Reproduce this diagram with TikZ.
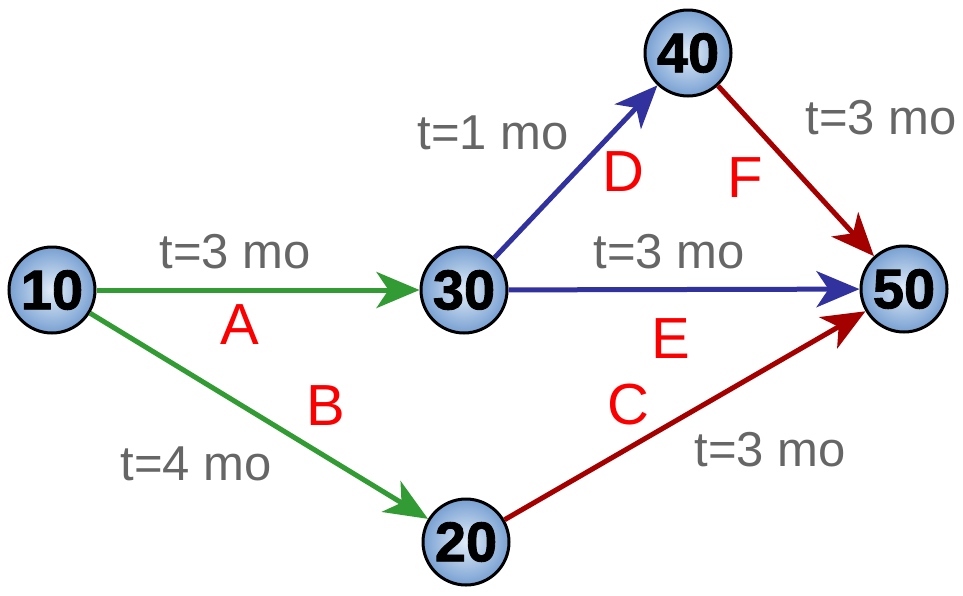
\documentclass[tikz,border=0pt]{standalone}
\usepackage{fontspec}
\setmainfont{Liberation Sans}
\newfontfamily\nodefont[FakeBold=1.6]{Liberation Sans Bold}
\usetikzlibrary{arrows.meta}
\definecolor{gA}{RGB}{51,155,51}
\definecolor{bE}{RGB}{50,50,158}
\definecolor{rC}{RGB}{165,0,0}
\definecolor{lbl}{RGB}{102,102,102}
\definecolor{lr}{RGB}{250,0,0}
\definecolor{nin}{RGB}{225,236,248}
\definecolor{nout}{RGB}{120,160,210}
\tikzset{
  evt/.style={circle, draw=black, line width=3pt, minimum size=86pt, inner sep=0pt,
    inner color=nin, outer color=nout, font=\fontsize{56}{56}\nodefont},
  act/.style={line width=5pt, -{Stealth[length=43pt,width=36pt,inset=12pt]}},
  dur/.style={text=lbl, inner sep=0pt, font=\fontsize{49}{49}\selectfont},
  let/.style={text=lr, inner sep=0pt, font=\fontsize{58}{58}\selectfont},
}
\begin{document}
\begin{tikzpicture}[x=1pt,y=-1pt]
\useasboundingbox (0,0) rectangle (963,595);
\node[evt] (n10) at (52,290) {10};
\node[evt] (n30) at (464,290) {30};
\node[evt] (n40) at (688,53) {40};
\node[evt] (n50) at (904,289) {50};
\node[evt] (n20) at (466,542) {20};

\draw[act, gA] (n10) -- (n30);
\draw[act, gA] (n10) -- (n20);
\draw[act, bE] (n30) -- (n40);
\draw[act, bE] (n30) -- (n50);
\draw[act, rC] (n20) -- (n50);
\draw[act, rC] (n40) -- (n50);

\node[dur] (dA) at (235,252) {t=3 mo};
\node[let] (lA) at (240,325) {A};
\node[dur] (dB) at (196,464) {t=4 mo};
\node[let] (lB) at (326,406) {B};
\node[dur] (dD) at (493,133) {t=1 mo};
\node[let] (lD) at (623,172) {D};
\node[let] (lF) at (745,178) {F};
\node[dur] (dF) at (881,118) {t=3 mo};
\node[dur] (dE) at (669,252) {t=3 mo};
\node[let] (lE) at (671,339) {E};
\node[let] (lC) at (628,405) {C};
\node[dur] (dC) at (770,450) {t=3 mo};
\end{tikzpicture}
\end{document}
